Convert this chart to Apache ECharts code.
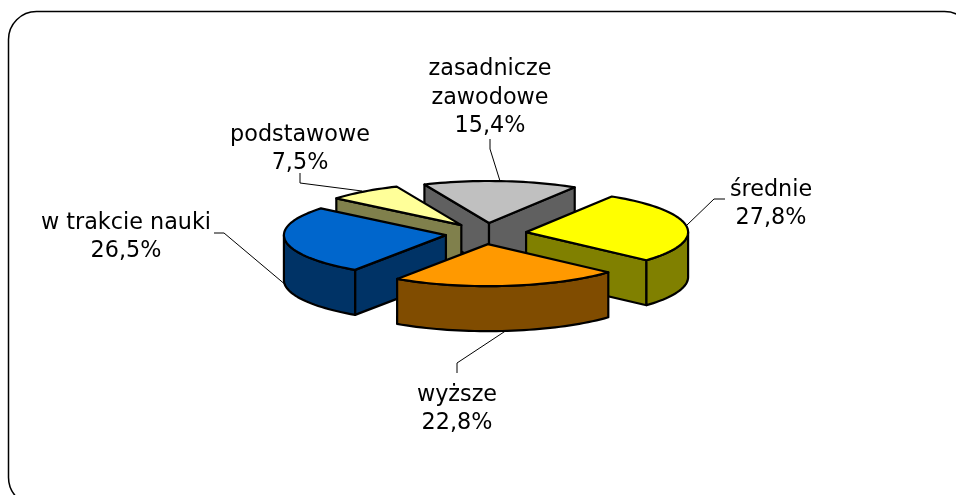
<!DOCTYPE html>
<html>
<head>
<meta charset="utf-8">
<style>
  html, body { margin: 0; padding: 0; background: #fff; }
  #chart { width: 956px; height: 495px; }
</style>
<script src="https://cdn.jsdelivr.net/npm/echarts@6/dist/echarts.min.js"></script>
</head>
<body>
<div id="chart"></div>
<script>
// dane (kolejnosc zgodna z ruchem wskazowek zegara)
const categories = ["zasadnicze\nzawodowe", "średnie", "wyższe", "w trakcie nauki", "podstawowe"];
const shares = [15.4, 27.8, 22.8, 26.5, 7.5];

// wyglad
const topColors = ["#C0C0C0", "#FFFF00", "#FF9900", "#0066CC", "#FFFF99"];
const sideColors = ["#606060", "#808000", "#804C00", "#003366", "#80804C"];
const paintOrder = [0, 2, 4, 3, 1]; // od tylu do przodu
const FONT = '"DejaVu Sans", Verdana, sans-serif';

// geometria "3D" kola
const CX = 486, CY = 233.6;
const RX = 162, RY = 42;
const EXPLODE = 41, DEPTH = 45;
const START_ANGLE = 336.5;
const sliceNudgeX = [0, -0.5, -3, 0.5, 0]; // poprawka na perspektywe oryginalu

// polozenie podpisow i linii odniesienia
const labelPos = [[490, 98], [771, 204], [457, 409], [126, 237], [300, 149]];
const leaderLines = [
  [[490, 139], [490, 149], [500, 181]],
  [[725, 199], [714, 199], [687, 225]],
  [[457, 373], [457, 363], [510, 328]],
  [[214, 233], [224, 233], [287, 286]],
  [[300, 173], [300, 183], [362, 191]]
];

const total = shares.reduce((a, b) => a + b, 0);
const rad = (d) => (d * Math.PI) / 180;

function arcPoints(ax, ay, from, to, dy) {
  const pts = [];
  const n = Math.max(2, Math.ceil((to - from) / 2));
  for (let i = 0; i <= n; i++) {
    const t = rad(from + ((to - from) * i) / n);
    pts.push([ax + RX * Math.sin(t), ay - RY * Math.cos(t) + (dy || 0)]);
  }
  return pts;
}

function face(points, fill, z2) {
  return {
    type: "polygon",
    z2: z2,
    shape: { points: points },
    style: { fill: fill, stroke: "#000", lineWidth: 2.2, lineJoin: "round" }
  };
}

function wall(ax, ay, angle, fill, z2) {
  const edge = arcPoints(ax, ay, angle, angle, 0)[0];
  return face(
    [[ax, ay], edge, [edge[0], edge[1] + DEPTH], [ax, ay + DEPTH]],
    fill,
    z2
  );
}

function renderSlice(params, api) {
  const i = params.dataIndex;
  const value = api.value(0);
  let before = 0;
  for (let k = 0; k < i; k++) before += shares[k];
  const from = START_ANGLE + (before / total) * 360;
  const to = from + (value / total) * 360;
  const mid = rad((from + to) / 2);
  // wierzcholek wycinka po odsunieciu od srodka
  const ax = CX + EXPLODE * Math.sin(mid) + sliceNudgeX[i];
  const ay = CY - (EXPLODE * Math.cos(mid) * RY) / RX;
  const base = paintOrder[i] * 10 + 10;
  const children = [];

  // sciany boczne widoczne od strony patrzacego
  if (Math.sin(rad(from)) < 0) children.push(wall(ax, ay, from, sideColors[i], base));
  if (Math.sin(rad(to)) > 0) children.push(wall(ax, ay, to, sideColors[i], base + 1));

  // sciana zewnetrzna tylko w przedniej polowie elipsy
  for (const shift of [0, 360]) {
    const a = Math.max(from, 90 + shift);
    const b = Math.min(to, 270 + shift);
    if (a < b) {
      const front = arcPoints(ax, ay, a, b, 0);
      const back = arcPoints(ax, ay, a, b, DEPTH).reverse();
      children.push(face(front.concat(back), sideColors[i], base + 2));
    }
  }

  // gorna powierzchnia
  children.push(face([[ax, ay]].concat(arcPoints(ax, ay, from, to, 0)), topColors[i], base + 3));

  // linia odniesienia pod wykresem
  children.push({
    type: "polyline",
    z2: 1,
    shape: { points: leaderLines[i] },
    style: { fill: null, stroke: "#000", lineWidth: 1 }
  });

  // podpis
  children.push({
    type: "text",
    z2: 100,
    x: labelPos[i][0],
    y: labelPos[i][1],
    style: {
      text: categories[i] + "\n" + value.toFixed(1).replace(".", ",") + "%",
      fill: "#000",
      font: "22.3px " + FONT,
      lineHeight: 28.5,
      align: "center",
      verticalAlign: "middle"
    }
  });

  return { type: "group", children: children };
}

const chart = echarts.init(document.getElementById("chart"), null, { renderer: "canvas" });
chart.setOption({
  animation: false,
  backgroundColor: "#fff",
  graphic: [
    {
      type: "rect",
      z: 0,
      silent: true,
      shape: { x: 8.5, y: 11.5, width: 964, height: 494, r: 28 },
      style: { fill: "#fff", stroke: "#000", lineWidth: 1.5 }
    }
  ],
  series: [
    {
      type: "custom",
      coordinateSystem: "none",
      z: 2,
      silent: true,
      renderItem: renderSlice,
      data: shares.map((v) => [v])
    }
  ]
});
</script>
</body>
</html>
